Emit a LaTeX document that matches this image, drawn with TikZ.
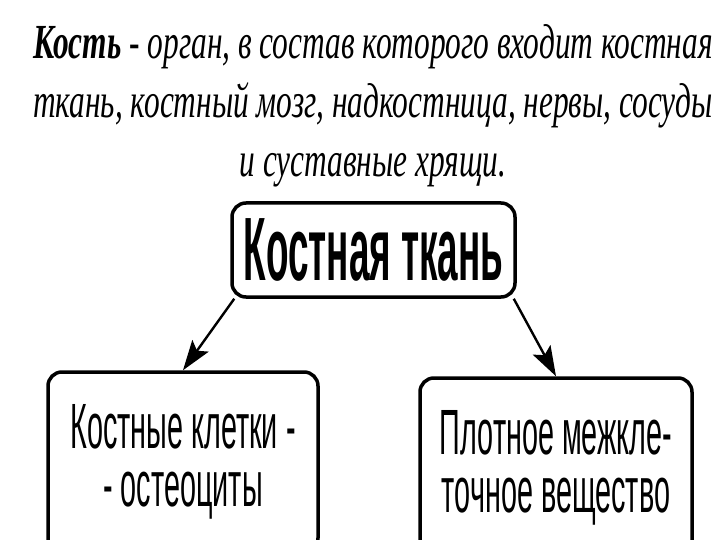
\documentclass[tikz,border=0pt]{standalone}
\usepackage{fontspec}
\setmainfont{Liberation Serif}
\newfontfamily\bookfont[FakeStretch=0.64]{Liberation Serif}
\newfontfamily\boxfont[FakeStretch=0.45]{Liberation Sans}
\newfontfamily\titlefont[FakeStretch=0.41]{Liberation Sans}
\usetikzlibrary{arrows.meta}
\begin{document}
\begin{tikzpicture}[x=1pt, y=-1pt,
  box/.style={draw, line width=3.5pt, rounded corners=14pt, align=center},
  arr/.style={line width=2.4pt, -{Stealth[length=30pt, width=20pt, inset=6pt]}}]
\useasboundingbox (0,0) rectangle (720,540);
\clip (0,0) rectangle (720,540);
% definition of the bone
\node[align=center, font=\bookfont\itshape\fontsize{49}{59}\selectfont] (def) at (373,106)
  {\textbf{Кость} - орган, в состав которого входит костная\\
   ткань, костный мозг, надкостница, нервы, сосуды\\
   и суставные хрящи.};
% bone tissue and its two parts
\node[box, minimum width=283pt, minimum height=94pt, font=\titlefont\bfseries\fontsize{90}{90}\selectfont] (tissue) at (373.5,250) {Костная ткань};
\node[box, minimum width=270pt, minimum height=180pt, font=\boxfont\fontsize{64}{58}\selectfont] (cells) at (183,462) {Костные клетки -\\- остеоциты};
\node[box, minimum width=272pt, minimum height=180pt, font=\boxfont\fontsize{64}{58}\selectfont] (matrix) at (556,468) {Плотное межкле-\\точное вещество};
\draw[arr] ([xshift=4pt]tissue.south west) -- (cells.north);
\draw[arr] ([xshift=-3pt]tissue.south east) -- (matrix.north);
\end{tikzpicture}
\end{document}
